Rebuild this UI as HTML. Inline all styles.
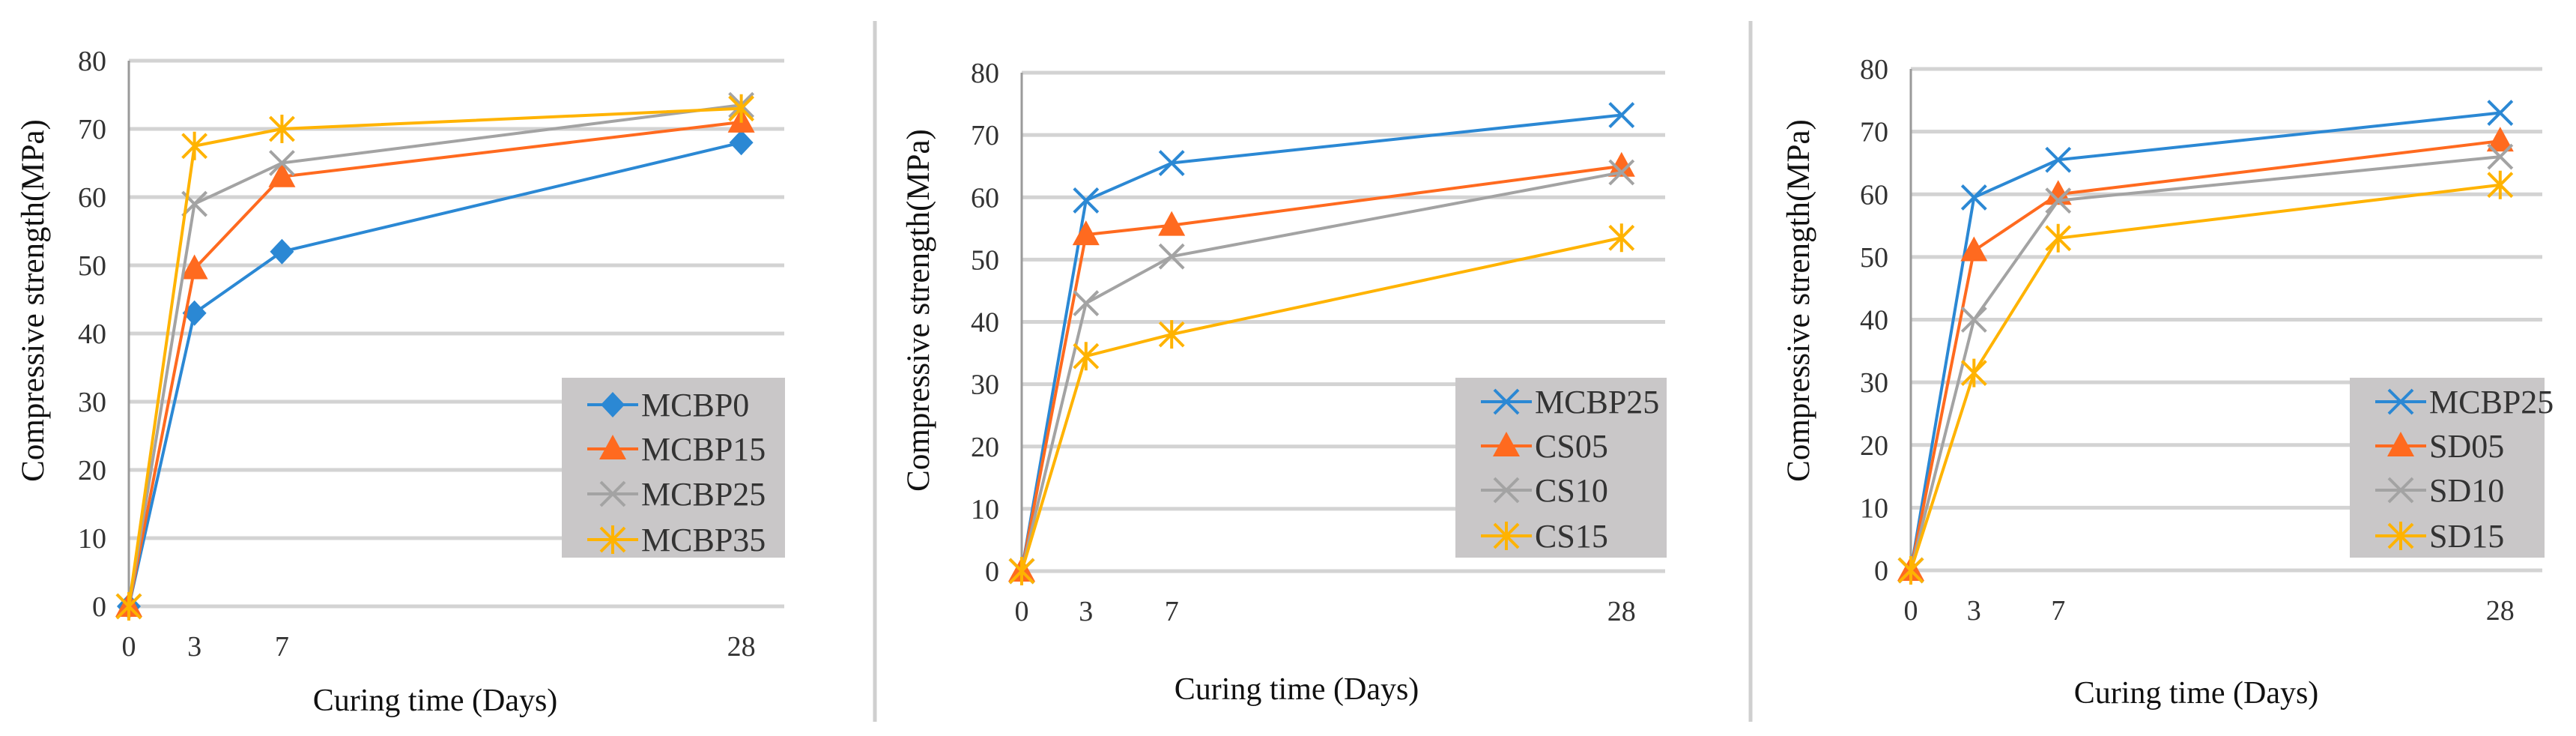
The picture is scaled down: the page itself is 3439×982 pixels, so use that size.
<!DOCTYPE html>
<html><head><meta charset="utf-8"><style>
html,body{margin:0;padding:0;background:#fff;}
svg{display:block;font-family:"Liberation Serif",serif;}
svg text{font-family:"Liberation Serif","DejaVu Serif",serif;}
</style></head><body>
<svg id="fig" width="3439" height="982" viewBox="0 0 3439 982" xmlns="http://www.w3.org/2000/svg" font-family="Liberation Serif, serif">
<line x1="1168" y1="28" x2="1168" y2="963" stroke="#cfcfcf" stroke-width="5"/>
<line x1="2337" y1="28" x2="2337" y2="963" stroke="#cfcfcf" stroke-width="5"/>
</svg>
<script>
const days = [0, 3, 7, 28];
const yTicks = [0, 10, 20, 30, 40, 50, 60, 70, 80];
const xTickLabels = ["0", "3", "7", "28"];
const p1Names = ["MCBP0", "MCBP15", "MCBP25", "MCBP35"];
const p1MCBP0 = [0, 43, 52, 68];
const p1MCBP15 = [0, 49.5, 63, 71];
const p1MCBP25 = [0, 59, 65, 73.5];
const p1MCBP35 = [0, 67.5, 70, 73];
const p2Names = ["MCBP25", "CS05", "CS10", "CS15"];
const p2MCBP25 = [0, 59.5, 65.5, 73.2];
const p2CS05 = [0, 54, 55.5, 65];
const p2CS10 = [0, 43, 50.5, 64];
const p2CS15 = [0, 34.5, 38, 53.5];
const p3Names = ["MCBP25", "SD05", "SD10", "SD15"];
const p3MCBP25 = [0, 59.5, 65.5, 73];
const p3SD05 = [0, 51, 60, 68.5];
const p3SD10 = [0, 40, 59, 66];
const p3SD15 = [0, 31.5, 53, 61.5];

const NS = "http://www.w3.org/2000/svg";
const svg = document.getElementById("fig");
const FONT = '"Liberation Serif", serif';
const COL = {blue:"#2b88d4", orange:"#ff6a1f", gray:"#a3a3a3", yellow:"#ffb300"};
function mk(tag, attrs, parent){const e=document.createElementNS(NS,tag);for(const k in attrs)e.setAttribute(k,attrs[k]);if(tag==="text")e.setAttribute("font-family",FONT);(parent||svg).appendChild(e);return e;}

function marker(g, type, x, y, color){
  let m;
  if(type==="diamond"){m=mk("polygon",{points:`${x},${y-17} ${x+16},${y} ${x},${y+17} ${x-16},${y}`,fill:color},g);}
  else if(type==="tri"){m=mk("polygon",{points:`${x},${y-19} ${x+18},${y+14} ${x-18},${y+14}`,fill:color},g);}
  else if(type==="x"){m=mk("path",{d:`M${x-16},${y-16}L${x+16},${y+16}M${x-16},${y+16}L${x+16},${y-16}`,stroke:color,"stroke-width":4,fill:"none"},g);}
  else {m=mk("path",{d:`M${x-16},${y-16}L${x+16},${y+16}M${x-16},${y+16}L${x+16},${y-16}M${x},${y-19}L${x},${y+19}`,stroke:color,"stroke-width":4,fill:"none"},g);}
  
  
}

function panel(idx, cfg){
  const g = mk("g",{});
  
  
  const xs = d => cfg.x0 + d*cfg.perDay;
  const ys = v => cfg.y0 - v*(cfg.y0-cfg.y80)/80;
  yTicks.forEach(t=>{
    const ln = mk("line",{x1:cfg.x0,x2:cfg.xEnd,y1:ys(t),y2:ys(t),stroke:"#d3d3d3","stroke-width":5},g);
    
    
    const tx = mk("text",{x:cfg.x0-30,y:ys(t)+13,"text-anchor":"end","font-size":38,fill:"#333"},g);
    tx.textContent=t;
    
    
  });
  const ax = mk("line",{x1:cfg.x0,x2:cfg.x0,y1:ys(80),y2:ys(0),stroke:"#9a9a9a","stroke-width":3},g);
  
  
  days.forEach((d,i)=>{
    const tx = mk("text",{x:xs(d),y:cfg.y0+66,"text-anchor":"middle","font-size":38,fill:"#333"},g);
    tx.textContent=xTickLabels[i];
    
    
  });
  const xt = mk("text",{x:cfg.xTitle,y:cfg.xTitleY,"text-anchor":"middle","font-size":42,fill:"#111"},g);
  xt.textContent="Curing time (Days)";
  
  
  const yt = mk("text",{x:0,y:0,"text-anchor":"middle","font-size":43,fill:"#111",transform:`translate(${cfg.yTitleX},${cfg.yTitleY}) rotate(-90)`},g);
  yt.textContent="Compressive strength(MPa)";
  
  
  const lg = mk("rect",{x:cfg.lx,y:504,width:cfg.lw,height:240,fill:"#c9c7c8"},g);
  
  
  cfg.series.forEach((s,i)=>{
    const pts = days.map((d,j)=>xs(d)+","+ys(s.vals[j])).join(" ");
    const pl = mk("polyline",{points:pts,fill:"none",stroke:s.color,"stroke-width":4,"stroke-linejoin":"round"},g);
    
    
    days.forEach((d,j)=>marker(g,s.m,xs(d),ys(s.vals[j]),s.color));
    const ly = cfg.legY[i];
    const ll = mk("line",{x1:cfg.lx+34,x2:cfg.lx+102,y1:ly,y2:ly,stroke:s.color,"stroke-width":4},g);
    
    
    marker(g,s.m,cfg.lx+68,ly,s.color);
    const lt = mk("text",{x:cfg.lx+106,y:ly+15,"font-size":44,fill:"#333"},g);
    lt.textContent=cfg.names[i];
    
    
  });
}

panel(1,{x0:172,perDay:29.2,xEnd:1047,y0:809,y80:81,xTitle:581,xTitleY:948,yTitleX:58,yTitleY:401,lx:750,lw:298,legY:[540,599,659,720],names:p1Names,
  series:[{vals:p1MCBP0,color:COL.blue,m:"diamond"},{vals:p1MCBP15,color:COL.orange,m:"tri"},{vals:p1MCBP25,color:COL.gray,m:"x"},{vals:p1MCBP35,color:COL.yellow,m:"star"}]});
panel(2,{x0:1364,perDay:28.6,xEnd:2223,y0:762,y80:97,xTitle:1731,xTitleY:933,yTitleX:1240,yTitleY:414,lx:1943,lw:282,legY:[536,595,654,715],names:p2Names,
  series:[{vals:p2MCBP25,color:COL.blue,m:"x"},{vals:p2CS05,color:COL.orange,m:"tri"},{vals:p2CS10,color:COL.gray,m:"x"},{vals:p2CS15,color:COL.yellow,m:"star"}]});
panel(3,{x0:2551,perDay:28.1,xEnd:3394,y0:761,y80:92,xTitle:2932,xTitleY:938,yTitleX:2415,yTitleY:401,lx:3137,lw:260,legY:[536,595,654,715],names:p3Names,
  series:[{vals:p3MCBP25,color:COL.blue,m:"x"},{vals:p3SD05,color:COL.orange,m:"tri"},{vals:p3SD10,color:COL.gray,m:"x"},{vals:p3SD15,color:COL.yellow,m:"star"}]});
</script>
</body></html>
